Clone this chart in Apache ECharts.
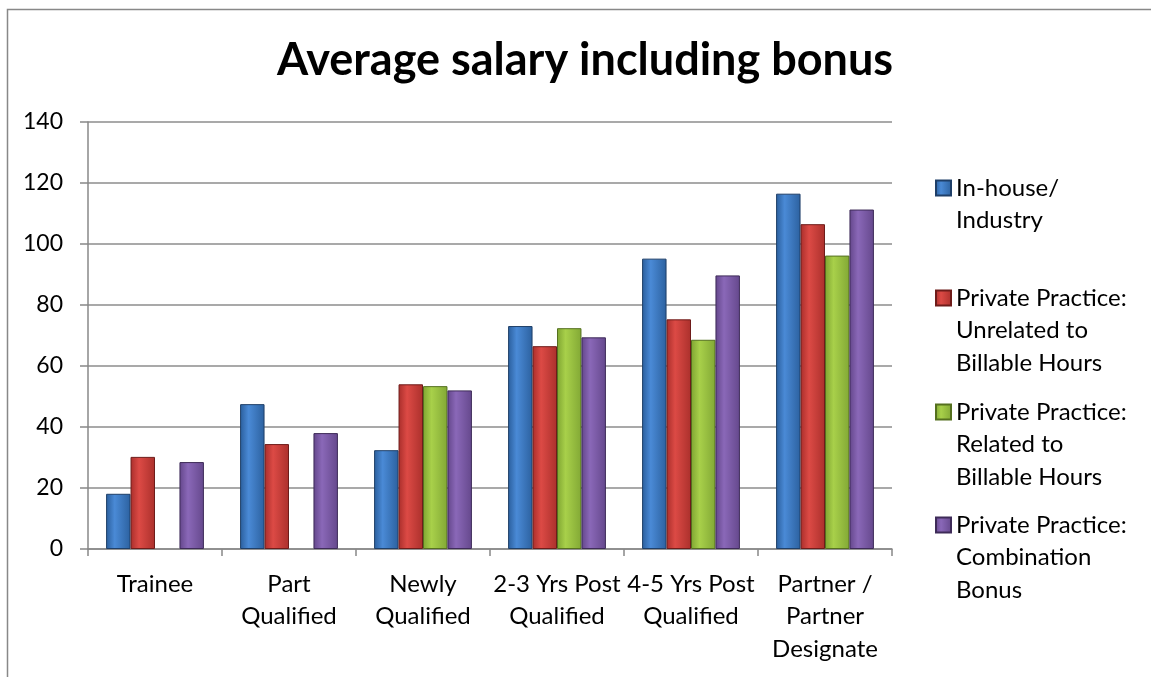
<!DOCTYPE html>
<html>
<head>
<meta charset="utf-8">
<script src="https://cdn.jsdelivr.net/npm/echarts@6/dist/echarts.min.js"></script>
<style>
  html, body { margin: 0; padding: 0; background: #fff; }
  #chart { width: 1151px; height: 677px; }
</style>
</head>
<body>
<div id="chart"></div>
<script>
// categories and values
const categories = ['Trainee', 'Part\nQualified', 'Newly\nQualified', '2-3 Yrs Post\nQualified', '4-5 Yrs Post\nQualified', 'Partner /\nPartner\nDesignate'];
const inHouse = [18.1, 47.5, 32.4, 73.1, 95.2, 116.5];
const unrelated = [30.2, 34.4, 54.0, 66.5, 75.3, 106.5];
const related = [null, null, 53.4, 72.4, 68.6, 96.2];
const combination = [28.5, 38.0, 52.0, 69.4, 89.7, 111.3];

const seriesNames = ['In-house/\nIndustry', 'Private Practice:\nUnrelated to\nBillable Hours', 'Private Practice:\nRelated to\nBillable Hours', 'Private Practice:\nCombination\nBonus'];
const seriesData = [inHouse, unrelated, related, combination];
const palette = [
  ['#2a5e9c', '#4a8ad6', '#2c619f', '#1f3f68'],
  ['#a92e2b', '#dc4a45', '#ab302c', '#6e1c1a'],
  ['#7fa532', '#a8d04a', '#82a835', '#55701f'],
  ['#63468a', '#8a68b8', '#65488c', '#3e2b58']
];

const FONT = 'Lato';
const LH = 32.5;

function barColor(c) {
  return new echarts.graphic.LinearGradient(0, 0, 1, 0, [
    { offset: 0, color: c[0] },
    { offset: 0.35, color: c[1] },
    { offset: 1, color: c[2] }
  ]);
}

const myChart = echarts.init(document.getElementById('chart'));

// one legend per entry so the spacing matches the picture;
// blank lines above the text keep the icon level with the first line
const legendTops = [188, 298, 412, 525];
const legends = seriesNames.map((name, i) => {
  const lines = name.split('\n').length;
  return {
    data: [name],
    orient: 'vertical',
    left: 935,
    top: legendTops[i] - (2 * lines - 1) * LH / 2,
    padding: 0,
    itemWidth: 15,
    itemHeight: 15,
    itemGap: 0,
    icon: 'rect',
    formatter: n => ' \n'.repeat(lines - 1) + n,
    textStyle: {
      fontFamily: FONT,
      fontSize: 24,
      color: '#000',
      lineHeight: LH
    }
  };
});

const option = {
  animation: false,
  title: {
    text: 'Average salary including bonus',
    left: 580,
    textAlign: 'center',
    top: 33,
    textStyle: { fontFamily: FONT, fontSize: 45, fontWeight: 'bold', color: '#000' }
  },
  legend: legends,
  grid: { left: 88, right: 259, top: 122, bottom: 128, containLabel: false },
  xAxis: {
    type: 'category',
    data: categories,
    axisLine: { lineStyle: { color: '#888', width: 1.5 } },
    axisTick: { show: true, length: 7, lineStyle: { color: '#888', width: 1.5 } },
    axisLabel: { fontFamily: FONT, fontSize: 24, color: '#000', lineHeight: LH, margin: 19, interval: 0 }
  },
  yAxis: {
    type: 'value',
    min: 0,
    max: 140,
    interval: 20,
    axisLine: { show: true, lineStyle: { color: '#888', width: 1.5 } },
    axisTick: { show: true, length: 8, lineStyle: { color: '#888', width: 1.5 } },
    splitLine: { lineStyle: { color: '#8c8c8c', width: 1.5 } },
    axisLabel: { fontFamily: FONT, fontSize: 23, color: '#000', margin: 25 }
  },
  graphic: [{
    type: 'polyline',
    shape: { points: [[7.5, 677], [7.5, 9.5], [1151, 9.5]] },
    style: { stroke: '#888', lineWidth: 1.5, fill: null },
    silent: true
  }],
  series: seriesData.map((d, i) => ({
    name: seriesNames[i],
    type: 'bar',
    data: d,
    barGap: '0%',
    barCategoryGap: '27%',
    itemStyle: {
      color: barColor(palette[i]),
      borderColor: palette[i][3],
      borderWidth: 1
    }
  }))
};

myChart.setOption(option);
</script>
</body>
</html>
